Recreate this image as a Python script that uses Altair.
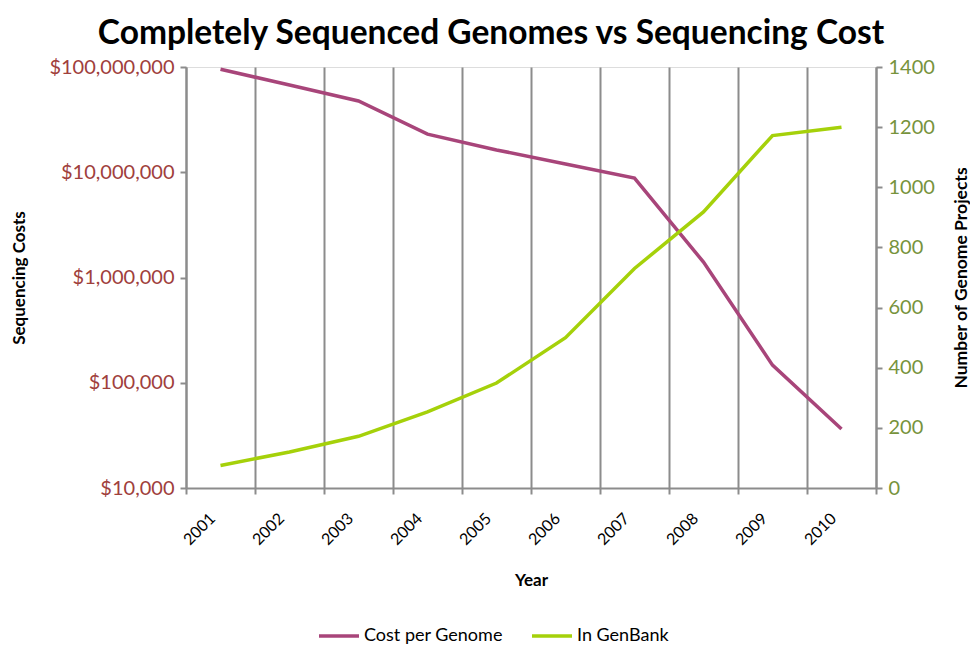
import altair as alt
import pandas as pd

years = ["2001", "2002", "2003", "2004", "2005", "2006", "2007", "2008", "2009", "2010"]
cost_per_genome = [95263072, 67400000, 47500000, 23000000, 16300000, 12000000, 8800000, 1400000, 147000, 36400]
in_genbank = [75, 120, 172, 253, 349, 500, 730, 918, 1172, 1200]

series_names = ["Cost per Genome", "In GenBank"]
series_colors = ["#A8457A", "#A5D10A"]
cost_ticks = [10000, 100000, 1000000, 10000000, 100000000]
count_ticks = [0, 200, 400, 600, 800, 1000, 1200, 1400]

df = pd.DataFrame({"Year": years, "Cost": cost_per_genome, "GenBank": in_genbank})

FONT = "Lato"
GRID = "#8C8C8C"

color = alt.Color(
    "series:N",
    scale=alt.Scale(domain=series_names, range=series_colors),
    legend=alt.Legend(
        title=None,
        orient="none",
        legendX=131,
        legendY=547,
        direction="horizontal",
        symbolType="stroke",
        symbolSize=1600,
        symbolStrokeWidth=3.5,
        labelFont=FONT,
        labelFontSize=18,
        labelColor="#000000",
        columnPadding=22,
        labelOffset=3,
    ),
)

xenc = alt.X(
    "Year:O",
    sort=years,
    scale=alt.Scale(paddingInner=0, paddingOuter=0),
    axis=alt.Axis(
        title="Year",
        titleFont=FONT,
        titleFontSize=17,
        titleFontWeight="bold",
        titleColor="#000000",
        titlePadding=25,
        labelAngle=-45,
        labelFont=FONT,
        labelFontSize=16,
        labelColor="#000000",
        labelPadding=16,
        labelOffset=-14,
        tickBand="extent",
        grid=True,
        gridColor=GRID,
        gridWidth=2,
        domainColor=GRID,
        domainWidth=2,
        tickColor=GRID,
        tickWidth=2,
        tickSize=6,
    ),
)

cost = alt.Chart(df).transform_calculate(series="'Cost per Genome'").mark_line(strokeWidth=3.5).encode(
    x=xenc,
    y=alt.Y(
        "Cost:Q",
        scale=alt.Scale(type="log", domain=[10000, 100000000]),
        axis=alt.Axis(
            title="Sequencing Costs",
            values=cost_ticks,
            format="$,.0f",
            titleFont=FONT,
            titleFontSize=17,
            titleFontWeight="bold",
            titleColor="#000000",
            titlePadding=20,
            labelFont=FONT,
            labelFontSize=20,
            labelColor="#A0403C",
            labelPadding=6,
            grid=False,
            domainColor=GRID,
            domainWidth=2,
            tickColor=GRID,
            tickWidth=2,
            tickSize=6,
        ),
    ),
    color=color,
)

bank = alt.Chart(df).transform_calculate(series="'In GenBank'").mark_line(strokeWidth=3.5).encode(
    x=xenc,
    y=alt.Y(
        "GenBank:Q",
        scale=alt.Scale(domain=[0, 1400]),
        axis=alt.Axis(
            orient="right",
            title="Number of Genome Projects",
            values=count_ticks,
            format="d",
            titleFont=FONT,
            titleFontSize=17.5,
            titleFontWeight="bold",
            titleColor="#000000",
            titleAngle=270,
            titlePadding=36,
            labelFont=FONT,
            labelFontSize=20,
            labelColor="#77933C",
            labelPadding=6,
            grid=False,
            domainColor=GRID,
            domainWidth=2,
            tickColor=GRID,
            tickWidth=2,
            tickSize=6,
        ),
    ),
    color=color,
)

chart = (
    alt.layer(cost, bank)
    .resolve_scale(y="independent")
    .properties(
        width=690,
        height=421,
        autosize=alt.AutoSizeParams(type="none"),
        padding={"left": 178, "top": 59, "right": 94, "bottom": 158},
        title=alt.TitleParams(
            "Completely Sequenced Genomes vs Sequencing Cost",
            font=FONT,
            fontSize=33.5,
            fontWeight="bold",
            color="#000000",
            anchor="middle",
            dx=-40,
            offset=6,
        ),
    )
    .configure_view(stroke=None)
    .configure(background="#FFFFFF")
)

chart.save("out.html", embed_options={"renderer": "svg", "actions": False})
